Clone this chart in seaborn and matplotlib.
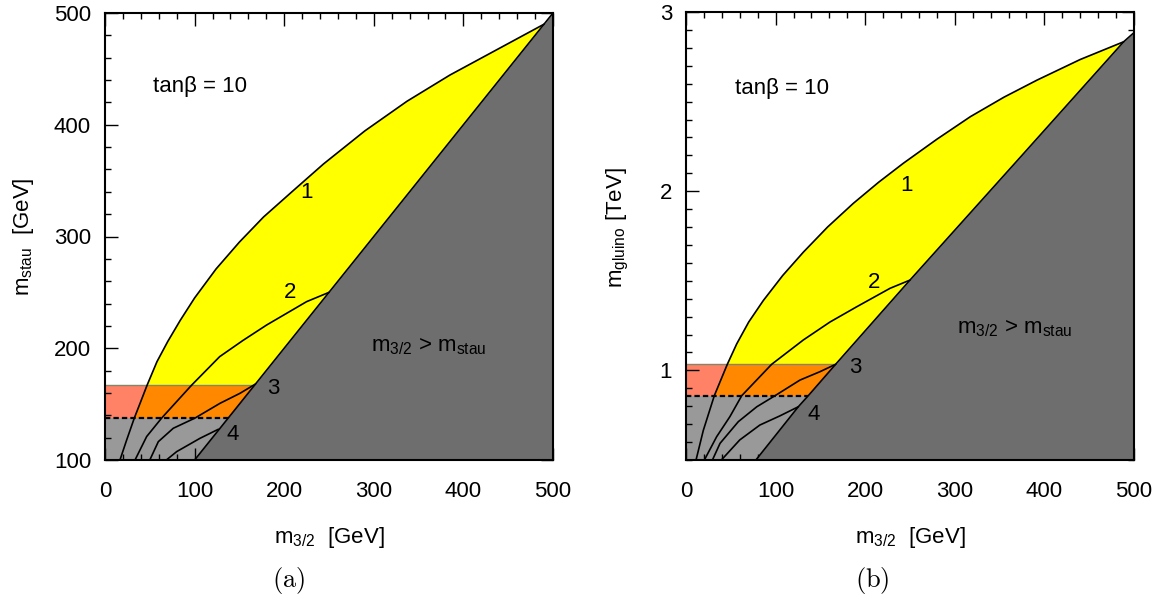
import numpy as np
import matplotlib
matplotlib.use("Agg")
import matplotlib.pyplot as plt
import seaborn as sns

# ---------------- data ----------------
# panel (a): m_3/2 [GeV] vs m_stau [GeV]
a_band_lo = 137.5
a_band_hi = 167.0
a_diag_x = [100, 500]
a_diag_y = [100, 500]
a_c1_x = [16.7, 24.0, 32.7, 40.0, 47.0, 58.0, 70.0, 84.0, 100.0, 124.0, 150.0, 177.0,
          210.0, 244.0, 290.0, 337.0, 385.0, 430.0, 490.0]
a_c1_y = [100, 117.5, 137.5, 152.5, 167, 188, 206, 225, 245, 271, 295, 317.5,
          341, 365, 394.5, 421, 444.5, 464, 490]
a_c2_x = [33.5, 46.5, 63.2, 96.7, 128.0, 154.0, 180.4, 225.0, 250.0]
a_c2_y = [100, 121, 137.5, 167, 192.5, 207, 220.8, 241.7, 250]
a_c3_x = [50.0, 59.5, 76.2, 100.4, 128.3, 150.7, 168.0]
a_c3_y = [100, 116.4, 128.4, 137.5, 150.7, 159.7, 168.0]
a_c4_x = [68.5, 80.0, 106.0, 126.5]
a_c4_y = [100, 107.5, 119.4, 127.5]

# panel (b): m_3/2 [GeV] vs m_gluino [TeV]
b_band_lo = 0.859
b_band_hi = 1.034
b_diag_x = [78, 100, 125.3, 136.5, 167, 250, 375, 488.5, 500]
b_diag_y = [0.5, 0.638, 0.797, 0.859, 1.034, 1.504, 2.2, 2.834, 2.885]
b_c1_x = [11.2, 19.3, 31.6, 46.1, 56.6, 70.0, 86.3, 108.0, 131.0, 158.0, 186.7, 215.0,
          242.6, 280.0, 317.4, 355.0, 391.8, 440.0, 488.5]
b_c1_y = [0.5, 0.665, 0.859, 1.034, 1.148, 1.27, 1.39, 1.53, 1.66, 1.80, 1.932, 2.05,
          2.156, 2.29, 2.416, 2.525, 2.62, 2.735, 2.834]
b_c2_x = [20.5, 34.2, 49.0, 62.2, 95.6, 131.0, 160.7, 190.5, 227.7, 250.0]
b_c2_y = [0.5, 0.63, 0.742, 0.859, 1.034, 1.17, 1.27, 1.355, 1.458, 1.504]
b_c3_x = [29.5, 38.0, 58.4, 79.0, 99.4, 127.2, 149.6, 167.0]
b_c3_y = [0.5, 0.593, 0.714, 0.797, 0.859, 0.946, 0.993, 1.034]
b_c4_x = [39.5, 60.0, 82.4, 104.7, 125.3]
b_c4_y = [0.5, 0.612, 0.695, 0.746, 0.797]

# ---------------- style ----------------
sns.set_theme(style="ticks")
plt.rcParams["font.family"] = ["Liberation Sans", "DejaVu Sans"]
plt.rcParams["text.color"] = "black"
plt.rcParams["axes.labelcolor"] = "black"
plt.rcParams["xtick.color"] = "black"
plt.rcParams["ytick.color"] = "black"
plt.rcParams["mathtext.fontset"] = "custom"
plt.rcParams["mathtext.rm"] = "Liberation Sans"
plt.rcParams["mathtext.it"] = "Liberation Sans:italic"
plt.rcParams["mathtext.bf"] = "Liberation Sans:bold"

YELLOW = "#FFFF00"
ORANGE = "#FF8800"
SALMON = "#FF8266"
LGRAY = "#999999"
DGRAY = "#6E6E6E"
FS = 16

W, H = 1161, 606
fig = plt.figure(figsize=(W / 100, H / 100), dpi=100)
axA = fig.add_axes([105 / W, 1 - 460 / H, 448 / W, 447 / H])
axB = fig.add_axes([686 / W, 1 - 460 / H, 448 / W, 448 / H])


def draw_panel(ax, ymin, ymax, band_lo, band_hi, dx, dy, curves, labels, label_pos,
               tan_pos, reg_pos):
    dx = np.asarray(dx, float); dy = np.asarray(dy, float)
    c1x = np.asarray(curves[0][0], float); c1y = np.asarray(curves[0][1], float)
    xd_lo = np.interp(band_lo, dy, dx)
    xd_hi = np.interp(band_hi, dy, dx)
    # background bands
    ax.fill_between([0, 500], ymin, band_lo, color=LGRAY, lw=0, zorder=1)
    ax.fill_between([0, 500], band_lo, band_hi, color=SALMON, lw=0, zorder=1)
    # orange: between curve 1 and diagonal in band
    m = (c1y >= band_lo) & (c1y <= band_hi)
    px = np.concatenate([c1x[m], [xd_hi, xd_lo]])
    py = np.concatenate([c1y[m], [band_hi, band_lo]])
    ax.fill(px, py, color=ORANGE, lw=0, zorder=2)
    # yellow: between curve 1 and diagonal above band
    m = c1y >= band_hi
    dm = (dy > band_hi) & (dy < c1y[-1])
    px = np.concatenate([c1x[m], dx[dm][::-1], [xd_hi]])
    py = np.concatenate([c1y[m], dy[dm][::-1], [band_hi]])
    ax.fill(px, py, color=YELLOW, lw=0, zorder=2)
    # dark gray: m_3/2 > m_stau
    ax.fill_between(np.concatenate([dx, [500]]), ymin, np.concatenate([dy, [dy[-1]]]),
                    color=DGRAY, lw=0, zorder=3)
    # band lines
    ax.plot([0, xd_hi], [band_hi, band_hi], color="#85856a", lw=1.0, zorder=4)
    ax.plot([0, xd_lo], [band_lo, band_lo], color="black", lw=1.6,
            dashes=(2.4, 1.4), zorder=5)
    # curves
    for cx, cy in curves:
        sns.lineplot(x=cx, y=cy, sort=False, estimator=None, color="black", lw=1.2,
                     ax=ax, zorder=6)
    sns.lineplot(x=dx, y=dy, sort=False, estimator=None, color="black", lw=1.2,
                 ax=ax, zorder=6)
    for lab, (lx, ly) in zip(labels, label_pos):
        ax.text(lx, ly, lab, fontsize=FS, ha="center", va="center", zorder=7)
    ax.text(tan_pos[0], tan_pos[1], "tanβ = 10", fontsize=FS, ha="left", va="center",
            zorder=7)
    ax.text(reg_pos[0], reg_pos[1], r"m$_{\rm 3/2}$ > m$_{\rm stau}$", fontsize=FS,
            ha="left", va="center", zorder=7)
    ax.set_xlim(0, 500)
    ax.set_ylim(ymin, ymax)
    ax.set_xlabel(""); ax.set_ylabel("")
    for s in ax.spines.values():
        s.set_linewidth(1.5)
        s.set_color("black")
        s.set_zorder(10)
        s.set_visible(True)
    ax.tick_params(which="both", direction="in", top=True, right=True, width=1.0,
                   colors="black", labelsize=FS, zorder=10)
    ax.tick_params(which="major", length=9)
    ax.tick_params(which="minor", length=4.5)
    ax.tick_params(axis="x", which="major", pad=15)
    ax.tick_params(axis="y", which="major", pad=10)
    ax.set_xticks([0, 100, 200, 300, 400, 500])
    ax.set_xticks(np.arange(0, 501, 20), minor=True)
    ax.set_axisbelow(False)


draw_panel(axA, 100, 500, a_band_lo, a_band_hi, a_diag_x, a_diag_y,
           [(a_c1_x, a_c1_y), (a_c2_x, a_c2_y), (a_c3_x, a_c3_y), (a_c4_x, a_c4_y)],
           ["1", "2", "3", "4"], [(225, 339), (206, 250), (188, 164), (142, 123)],
           (54, 434), (297, 202))
axA.set_yticks([100, 200, 300, 400, 500])
axA.set_yticks(np.arange(100, 501, 20), minor=True)

draw_panel(axB, 0.5, 3.0, b_band_lo, b_band_hi, b_diag_x, b_diag_y,
           [(b_c1_x, b_c1_y), (b_c2_x, b_c2_y), (b_c3_x, b_c3_y), (b_c4_x, b_c4_y)],
           ["1", "2", "3", "4"], [(246, 2.03), (210, 1.49), (189, 1.015), (142, 0.755)],
           (55, 2.574), (302, 1.235))
axB.set_yticks([1, 2, 3])
axB.set_yticks(np.arange(0.5, 3.01, 0.1), minor=True)

# axis labels
fig.text(329 / W, 1 - 537 / H, r"m$_{\rm 3/2}$  [GeV]", fontsize=FS, ha="center", va="center")
fig.text(910 / W, 1 - 537 / H, r"m$_{\rm 3/2}$  [GeV]", fontsize=FS, ha="center", va="center")
fig.text(23 / W, 1 - 237 / H, r"m$_{\rm stau}$  [GeV]", fontsize=FS, ha="center",
         va="center", rotation=90)
fig.text(618 / W, 1 - 228 / H, r"m$_{\rm gluino}$ [TeV]", fontsize=FS, ha="center",
         va="center", rotation=90)
fig.text(289 / W, 1 - 580 / H, r"$(\mathrm{a})$", fontsize=19, ha="center", va="center",
         math_fontfamily="cm")
fig.text(872 / W, 1 - 580 / H, r"$(\mathrm{b})$", fontsize=19, ha="center", va="center",
         math_fontfamily="cm")

fig.savefig("out.png", dpi=100)
